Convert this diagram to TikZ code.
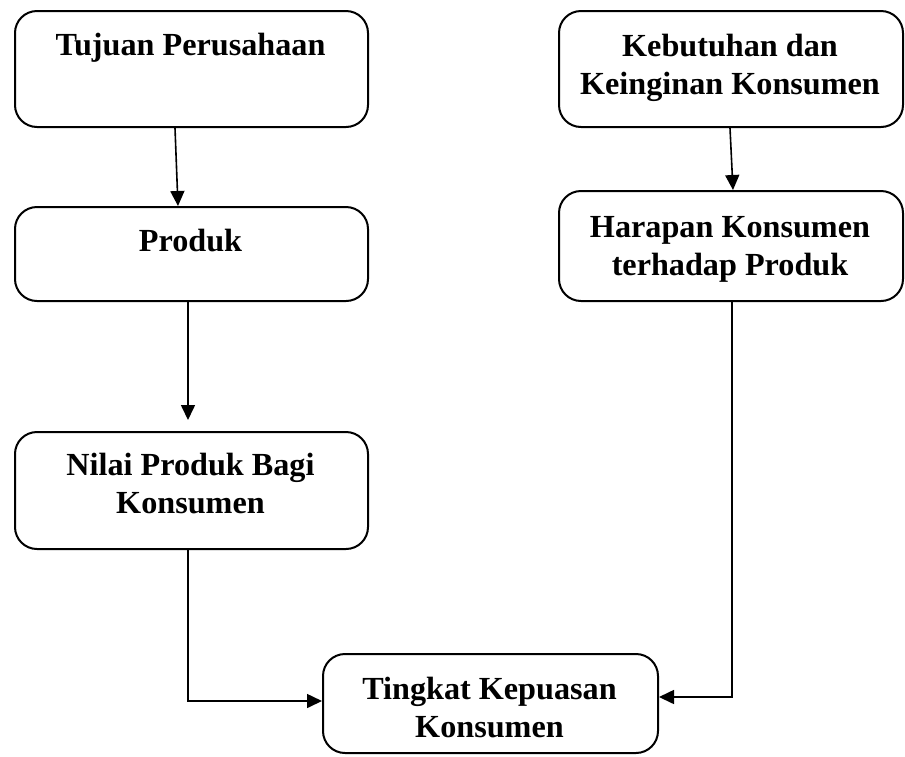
\documentclass[tikz,border=0pt]{standalone}
\usepackage{fontspec}
\setmainfont{Liberation Serif}
\usetikzlibrary{arrows.meta}
\begin{document}
\begin{tikzpicture}[x=1pt,y=-1pt,
  box/.style={draw, line width=2pt, rounded corners=22pt, anchor=north west, inner sep=0pt},
  txt/.style={align=center, font=\fontsize{32.2}{38}\selectfont\bfseries, inner sep=0pt},
  arr/.style={line width=1.6pt, -{Triangle[length=15pt,width=14pt]}}]
\useasboundingbox (0,0) rectangle (905,756);
% boxes
\node (tujuan) [box, minimum width=353pt, minimum height=116pt] at (14,10) {};
\node (kebutuhan) [box, minimum width=344pt, minimum height=116pt] at (558,10) {};
\node (produk) [box, minimum width=353pt, minimum height=94pt] at (14,206) {};
\node (harapan) [box, minimum width=344pt, minimum height=110pt] at (558,190) {};
\node (nilai) [box, minimum width=353pt, minimum height=117pt] at (14,431) {};
\node (tingkat) [box, minimum width=335pt, minimum height=99pt] at (322,653) {};
% texts
\node (t1) [txt, anchor=base] at (190.5,55) {Tujuan Perusahaan};
\node (t2) [txt, anchor=base] at (730,94) {Kebutuhan dan\\Keinginan Konsumen};
\node (t3) [txt, anchor=base] at (190.5,251) {Produk};
\node (t4) [txt, anchor=base] at (730,275) {Harapan Konsumen\\terhadap Produk};
\node (t5) [txt, anchor=base] at (190.5,513) {Nilai Produk Bagi\\Konsumen};
\node (t6) [txt, anchor=base] at (489.5,737) {Tingkat Kepuasan\\Konsumen};
% connectors
\draw[arr] ([xshift=-16.5pt]tujuan.south) -- ([xshift=-13.5pt]produk.north);
\draw[arr] ([xshift=-1pt]kebutuhan.south) -- ([xshift=2pt]harapan.north);
\draw[arr, shorten >=11pt] ([xshift=-3.5pt]produk.south) -- ([xshift=-3.5pt]nilai.north);
\draw[arr] ([xshift=-3.5pt]nilai.south) |- ([yshift=2.5pt]tingkat.west);
\draw[arr] ([xshift=1pt]harapan.south) |- ([yshift=6.5pt]tingkat.east);
\end{tikzpicture}
\end{document}
